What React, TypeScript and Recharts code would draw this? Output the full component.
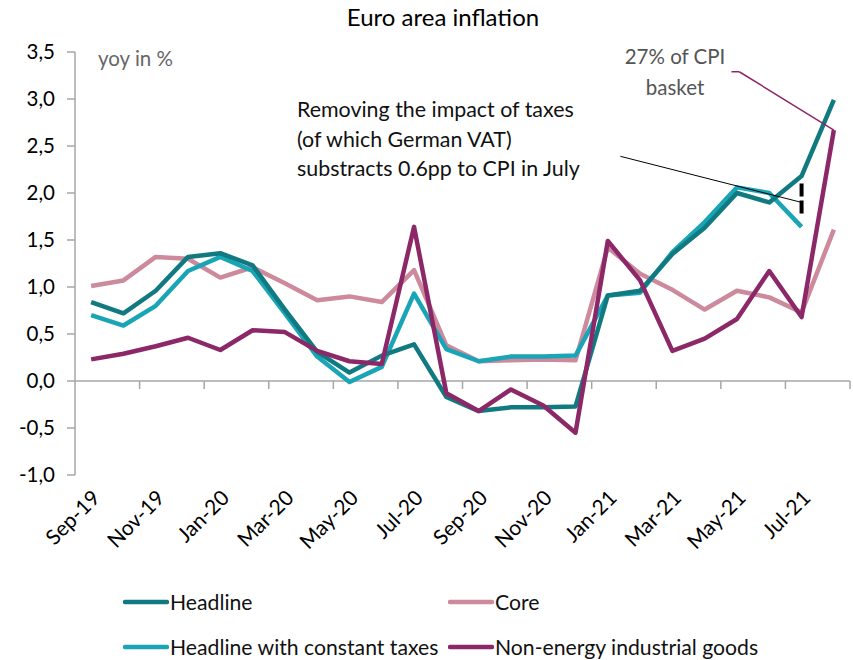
import React from "react";
import {
  LineChart,
  Line,
  XAxis,
  YAxis,
  ReferenceLine,
  Legend,
} from "recharts";

const months = [
  "Sep-19", "Oct-19", "Nov-19", "Dec-19", "Jan-20", "Feb-20", "Mar-20", "Apr-20",
  "May-20", "Jun-20", "Jul-20", "Aug-20", "Sep-20", "Oct-20", "Nov-20", "Dec-20",
  "Jan-21", "Feb-21", "Mar-21", "Apr-21", "May-21", "Jun-21", "Jul-21", "Aug-21",
];

const headline = [
  0.84, 0.72, 0.96, 1.32, 1.36, 1.23, 0.76, 0.31, 0.09, 0.27, 0.39, -0.17,
  -0.32, -0.28, -0.28, -0.27, 0.91, 0.96, 1.35, 1.63, 2.0, 1.9, 2.18, 2.99,
];

const core = [
  1.01, 1.07, 1.32, 1.3, 1.1, 1.21, 1.04, 0.86, 0.9, 0.84, 1.18, 0.38,
  0.21, 0.22, 0.23, 0.22, 1.42, 1.14, 0.97, 0.76, 0.96, 0.89, 0.73, 1.61,
];

const constantTaxes: (number | null)[] = [
  0.7, 0.59, 0.8, 1.17, 1.32, 1.17, 0.72, 0.26, -0.01, 0.15, 0.93, 0.34,
  0.21, 0.26, 0.26, 0.27, 0.91, 0.94, 1.37, 1.69, 2.06, 2.0, 1.64, null,
];

const neig = [
  0.23, 0.29, 0.37, 0.46, 0.33, 0.54, 0.52, 0.32, 0.21, 0.18, 1.64, -0.13,
  -0.32, -0.09, -0.26, -0.55, 1.49, 1.07, 0.32, 0.45, 0.66, 1.17, 0.68, 2.67,
];

const yTicks = [-1, -0.5, 0, 0.5, 1, 1.5, 2, 2.5, 3, 3.5];
// category centres sit at i + 0.5 on a 0..24 band axis; labels every second month
const labelTicks = [0.5, 2.5, 4.5, 6.5, 8.5, 10.5, 12.5, 14.5, 16.5, 18.5, 20.5, 22.5];
const boundaryTicks = [2, 4, 6, 8, 10, 12, 14, 16, 18, 20, 22, 24];

const seriesInfo = [
  { key: "headline", name: "Headline", color: "#117A81" },
  { key: "core", name: "Core", color: "#CC8A9C" },
  { key: "constantTaxes", name: "Headline with constant taxes", color: "#19A5B5" },
  { key: "neig", name: "Non-energy industrial goods", color: "#8C2868" },
];

const data = months.map((m, i) => ({
  month: m,
  pos: i + 0.5,
  headline: headline[i],
  core: core[i],
  constantTaxes: constantTaxes[i],
  neig: neig[i],
}));

const FONT = "Lato, 'Open Sans', sans-serif";

const XTick = (props: any) => {
  const { x, y, payload } = props;
  const label = months[Math.round(payload.value - 0.5)] ?? "";
  return (
    <text
      x={0}
      y={0}
      dy="0.35em"
      textAnchor="end"
      fontSize={21}
      fontFamily={FONT}
      fill="#000"
      transform={`translate(${x + 5},${y + 11}) rotate(-45)`}
    >
      {label}
    </text>
  );
};

const LegendContent = () => {
  const pos: Record<string, { left: number; top: number }> = {
    headline: { left: 123, top: 602 },
    core: { left: 448, top: 602 },
    constantTaxes: { left: 123, top: 647 },
    neig: { left: 448, top: 647 },
  };
  return (
    <div style={{ position: "relative", width: 853, height: 80 }}>
      {seriesInfo.map((s) => {
        const p = pos[s.key];
        return (
          <div
            key={s.key}
            style={{
              position: "absolute",
              left: p.left,
              top: p.top - 575 - 14,
              display: "flex",
              alignItems: "center",
              height: 28,
              whiteSpace: "nowrap",
            }}
          >
            <svg width={46} height={10}>
              <line x1={2} y1={5} x2={44} y2={5} stroke={s.color} strokeWidth={4.5} strokeLinecap="round" />
            </svg>
            <span style={{ fontFamily: FONT, fontSize: 21.2, color: "#111", marginLeft: 1 }}>{s.name}</span>
          </div>
        );
      })}
    </div>
  );
};

export default function App() {
  return (
    <div style={{ position: "absolute", left: 0, top: 0, width: 853, height: 660, background: "#fff" }}>
      <LineChart
        width={853}
        height={660}
        data={data}
        margin={{ top: 52, right: 3, left: 0, bottom: 85 }}
      >
        <XAxis
          dataKey="pos"
          type="number"
          domain={[0, 24]}
          allowDataOverflow
          ticks={labelTicks}
          interval={0}
          axisLine={false}
          tickLine={false}
          height={100}
          tick={<XTick />}
        />
        <YAxis
          domain={[-1, 3.5]}
          ticks={yTicks}
          width={75}
          interval={0}
          allowDataOverflow
          axisLine={{ stroke: "#a6a6a6", strokeWidth: 1.5 }}
          tickLine={{ stroke: "#a6a6a6", strokeWidth: 1.5 }}
          tickSize={8}
          tickMargin={12}
          tick={{ fontSize: 20.5, fontFamily: FONT, fill: "#000" }}
          tickFormatter={(v: number) => v.toFixed(1).replace(".", ",")}
        />
        <ReferenceLine y={0} stroke="#a6a6a6" strokeWidth={1.5} />
        {boundaryTicks.map((k) => (
          <ReferenceLine
            key={"bt" + k}
            segment={[{ x: k, y: 0 }, { x: k, y: -0.085 }]}
            stroke="#a6a6a6"
            strokeWidth={1.5}
            ifOverflow="visible"
          />
        ))}
        <Line dataKey="core" name="Core" stroke="#CC8A9C" strokeWidth={4.5} dot={false} isAnimationActive={false} strokeLinejoin="round" />
        <Line dataKey="constantTaxes" name="Headline with constant taxes" stroke="#19A5B5" strokeWidth={4.5} dot={false} isAnimationActive={false} strokeLinejoin="round" />
        <Line dataKey="headline" name="Headline" stroke="#117A81" strokeWidth={4.5} dot={false} isAnimationActive={false} strokeLinejoin="round" />
        <Line dataKey="neig" name="Non-energy industrial goods" stroke="#8C2868" strokeWidth={4.5} dot={false} isAnimationActive={false} strokeLinejoin="round" />
        <ReferenceLine
          segment={[{ x: 16.89, y: 2.39 }, { x: 22.5, y: 1.9 }]}
          stroke="#000"
          strokeWidth={1}
          ifOverflow="visible"
        />
        <ReferenceLine
          segment={[{ x: 22.5, y: 2.1 }, { x: 22.5, y: 1.78 }]}
          stroke="#000"
          strokeWidth={4}
          strokeDasharray="13 4"
          ifOverflow="visible"
        />
        <ReferenceLine
          segment={[{ x: 20.33, y: 3.29 }, { x: 20.57, y: 3.29 }]}
          stroke="#8C2868"
          strokeWidth={1.5}
          ifOverflow="visible"
        />
        <ReferenceLine
          segment={[{ x: 20.57, y: 3.29 }, { x: 23.5, y: 2.67 }]}
          stroke="#8C2868"
          strokeWidth={1.5}
          ifOverflow="visible"
        />
        <Legend
          layout="horizontal"
          verticalAlign="middle"
          align="center"
          content={<LegendContent />}
          wrapperStyle={{ position: "absolute", left: 0, top: 575, width: 853, height: 80 }}
        />
      </LineChart>
      <div style={{ position: "absolute", left: 0, top: 2, width: 886, textAlign: "center", fontFamily: FONT, fontSize: 24, color: "#000" }}>
        Euro area inflation
      </div>
      <div style={{ position: "absolute", left: 98, top: 46, fontFamily: FONT, fontSize: 20.5, color: "#666" }}>
        yoy in %
      </div>
      <div style={{ position: "absolute", left: 297, top: 95, fontFamily: FONT, fontSize: 21.4, color: "#111", lineHeight: "29.5px", whiteSpace: "nowrap" }}>
        Removing the impact of taxes<br />(of which German VAT)<br />substracts 0.6pp to CPI in July
      </div>
      <div style={{ position: "absolute", left: 600, top: 41, width: 150, textAlign: "center", fontFamily: FONT, fontSize: 20.5, color: "#555", lineHeight: "31px" }}>
        27% of CPI<br />basket
      </div>
    </div>
  );
}
